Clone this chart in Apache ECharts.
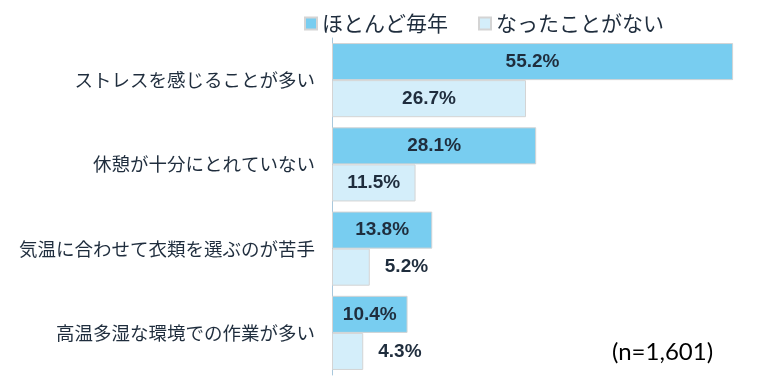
<!DOCTYPE html>
<html><head><meta charset="utf-8">
<script src="https://cdn.jsdelivr.net/npm/echarts@6/dist/echarts.min.js"></script>
<style>html,body{margin:0;padding:0;background:#fff}#c{width:768px;height:384px}</style>
</head><body><div id="c"></div>
<script>
var categories = ['ストレスを感じることが多い','休憩が十分にとれていない','気温に合わせて衣類を選ぶのが苦手','高温多湿な環境での作業が多い'];
var seriesNames = ['ほとんど毎年','なったことがない'];
var everyYear = [55.2, 28.1, 13.8, 10.4];
var never = [26.7, 11.5, 5.2, 4.3];
var note = '(n=1,601)';

var chart = echarts.init(document.getElementById('c'));
var labelFont = {fontFamily:'Liberation Sans, Arial, sans-serif', fontWeight:'bold', fontSize:19, color:'#1f2d3d'};
function lbl(v){
  var small = v < 8;
  return Object.assign({show:true, position: small ? 'right' : 'inside', distance: 15,
    formatter: function(p){return p.value.toFixed(1)+'%';}}, labelFont);
}
function makeData(arr){
  return arr.map(function(v){return {value:v, label: lbl(v)};});
}
chart.setOption({
  animation:false,
  legend:{
    data: seriesNames, left: 299, top: 8, icon:'rect', itemWidth:12, itemHeight:12, itemGap:30,
    textStyle:{fontFamily:'Noto Sans CJK JP', fontSize:21, color:'#1f2d3d'}
  },
  grid:{left:332, top:38, width:437, height:337, containLabel:false},
  xAxis:{type:'value', min:0, max:60, show:false},
  yAxis:{type:'category', data:categories, inverse:true,
    axisLine:{show:true, lineStyle:{color:'#a9c8dc', width:1}},
    axisTick:{show:false},
    axisLabel:{fontFamily:'Noto Sans CJK JP', fontSize:18.5, color:'#1f2d3d', margin:17},
    splitLine:{show:false}
  },
  series:[
    {name:seriesNames[0], type:'bar', data:makeData(everyYear), barGap:'0%', barCategoryGap:'12%',
      itemStyle:{color:'#78cdf0', borderColor:'#d4d4d4', borderWidth:1}},
    {name:seriesNames[1], type:'bar', data:makeData(never), barGap:'0%', barCategoryGap:'12%',
      itemStyle:{color:'#d4eefa', borderColor:'#d4d4d4', borderWidth:1}}
  ],
  graphic:[{type:'text', left:612, top:340, style:{text:note, fontFamily:'Lato, sans-serif', fontSize:24, fill:'#000'}}]
});
</script></body></html>
